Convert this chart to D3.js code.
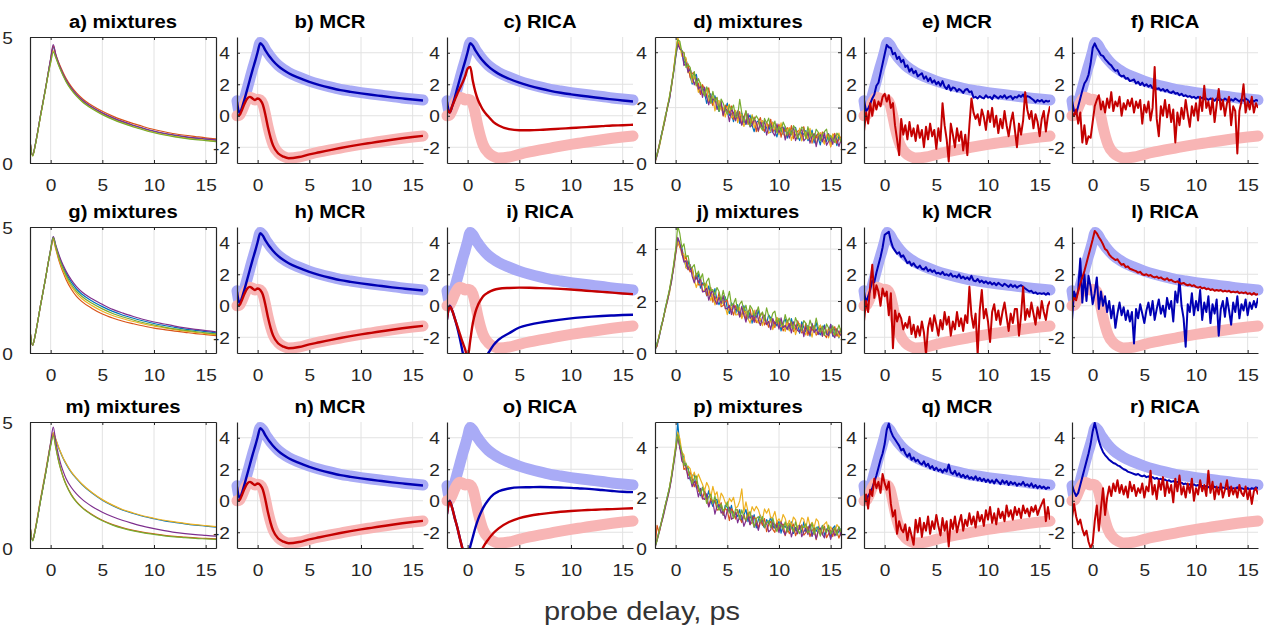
<!DOCTYPE html>
<html>
<head>
<meta charset="utf-8">
<script src="https://cdn.jsdelivr.net/npm/d3@7"></script>
<style>
  body { margin: 0; background: #fff; }
  svg { display: block; }
  text { font-family: "Liberation Sans", Arial, Helvetica, sans-serif; }
</style>
</head>
<body>
<svg id="chart" width="1270" height="632"></svg>
<script>
// ---------------- time axes ----------------
const timeSmooth = [-2,-1.75,-1.5,-1.25,-1,-0.75,-0.5,-0.25,0,0.25,0.5,0.75,1,1.25,1.5,2,2.5,3,4,5,6,7,8,9,10,11,12,13,14,15,16];
const timeFine = d3.range(91).map(i => Math.round((-2 + 0.2 * i) * 10) / 10);

const xTicks = [0, 5, 10, 15];
const yTicksMix = [0, 5];
const yTicksMixNoisy = [0, 2, 4];
const yTicksComp = [-2, 0, 2, 4];

// ---------------- reference (true) components ----------------
const refBlue = [0.95,0.2,0.6,1.15,1.75,2.35,2.95,3.5,4.1,4.65,4.5,4.22,3.97,3.74,3.54,3.2,2.95,2.75,2.45,2.2,2.0,1.83,1.68,1.57,1.47,1.38,1.3,1.22,1.13,1.06,1.0];
const refRed  = [0.0,0.05,0.35,0.75,1.05,1.18,1.12,1.0,1.05,1.0,0.75,0.1,-0.7,-1.35,-1.85,-2.35,-2.58,-2.68,-2.62,-2.45,-2.3,-2.17,-2.05,-1.93,-1.82,-1.72,-1.62,-1.52,-1.43,-1.35,-1.28];

// ---------------- smooth mixtures (a, g, m) ----------------
const mixA_blue   = [0.9,0.3,0.7,1.25,1.85,2.4,2.95,3.55,4.1,4.6,4.25,3.95,3.7,3.47,3.27,2.95,2.7,2.5,2.2,1.97,1.78,1.62,1.48,1.36,1.25,1.16,1.09,1.03,0.98,0.94,0.9];
const mixA_orange = [0.9,0.3,0.7,1.25,1.85,2.4,2.95,3.55,4.12,4.65,4.3,4.02,3.78,3.55,3.35,3.03,2.78,2.58,2.28,2.05,1.86,1.7,1.56,1.44,1.33,1.24,1.16,1.1,1.05,1.0,0.96];
const mixA_yellow = [0.88,0.28,0.68,1.22,1.82,2.37,2.92,3.5,4.0,4.45,4.2,3.92,3.67,3.44,3.24,2.92,2.67,2.47,2.17,1.94,1.75,1.59,1.45,1.33,1.22,1.13,1.06,1.0,0.95,0.91,0.87];
const mixA_purple = [0.9,0.3,0.7,1.25,1.85,2.4,2.95,3.55,4.15,4.7,4.3,3.98,3.72,3.49,3.29,2.97,2.72,2.52,2.22,1.99,1.8,1.64,1.5,1.38,1.27,1.18,1.11,1.05,1.0,0.96,0.92];
const mixA_green  = [0.88,0.28,0.68,1.22,1.82,2.37,2.92,3.5,3.98,4.4,4.18,3.9,3.65,3.42,3.22,2.9,2.65,2.45,2.15,1.92,1.73,1.57,1.43,1.31,1.2,1.11,1.04,0.98,0.93,0.89,0.85];

const mixG_blue   = [0.9,0.3,0.7,1.25,1.85,2.4,2.95,3.55,4.1,4.6,4.24,3.91,3.62,3.38,3.16,2.81,2.54,2.34,2.06,1.84,1.65,1.5,1.38,1.27,1.17,1.09,1.02,0.95,0.9,0.85,0.8];
const mixG_orange = [0.9,0.3,0.7,1.25,1.85,2.4,2.95,3.55,4.05,4.5,4.12,3.74,3.42,3.15,2.91,2.53,2.25,2.05,1.77,1.55,1.39,1.26,1.16,1.07,0.99,0.93,0.87,0.82,0.77,0.73,0.69];
const mixG_yellow = [0.9,0.3,0.7,1.25,1.85,2.4,2.95,3.55,4.08,4.55,4.16,3.8,3.49,3.23,3.0,2.64,2.37,2.16,1.88,1.66,1.49,1.36,1.25,1.15,1.07,1.0,0.93,0.87,0.82,0.77,0.73];
const mixG_purple = [0.9,0.3,0.7,1.25,1.85,2.4,2.95,3.55,4.12,4.62,4.28,3.96,3.68,3.45,3.24,2.9,2.63,2.43,2.15,1.93,1.73,1.58,1.45,1.33,1.23,1.15,1.07,1.0,0.94,0.89,0.84];
const mixG_green  = [0.9,0.3,0.7,1.25,1.85,2.4,2.95,3.55,4.1,4.58,4.2,3.85,3.55,3.3,3.08,2.72,2.45,2.25,1.97,1.75,1.57,1.43,1.31,1.2,1.11,1.03,0.96,0.9,0.85,0.8,0.76];

const mixM_blue   = [0.9,0.3,0.7,1.25,1.85,2.4,2.95,3.55,4.12,4.55,4.3,4.0,3.75,3.52,3.33,3.0,2.75,2.53,2.18,1.9,1.68,1.5,1.37,1.25,1.16,1.08,1.02,0.96,0.91,0.87,0.83];
const mixM_orange = [0.9,0.3,0.7,1.25,1.85,2.4,2.95,3.55,4.1,4.5,4.0,3.5,3.1,2.78,2.52,2.12,1.84,1.63,1.33,1.1,0.93,0.8,0.7,0.62,0.56,0.5,0.46,0.43,0.4,0.38,0.36];
const mixM_yellow = [0.92,0.32,0.75,1.32,1.92,2.48,3.02,3.62,4.15,4.58,4.32,4.02,3.77,3.54,3.35,3.02,2.77,2.55,2.2,1.92,1.7,1.52,1.39,1.27,1.18,1.1,1.04,0.98,0.93,0.89,0.85];
const mixM_purple = [0.9,0.3,0.7,1.25,1.85,2.4,2.95,3.55,4.2,4.8,4.2,3.7,3.3,3.0,2.75,2.4,2.15,1.95,1.65,1.42,1.24,1.09,0.97,0.86,0.77,0.69,0.62,0.57,0.53,0.5,0.47];
const mixM_green  = [0.88,0.28,0.68,1.22,1.82,2.37,2.92,3.5,4.05,4.45,3.97,3.48,3.08,2.76,2.5,2.1,1.82,1.61,1.31,1.08,0.91,0.78,0.68,0.6,0.54,0.48,0.44,0.41,0.38,0.36,0.34];

// ---------------- smooth MCR / RICA results (b, c, h, i, n, o) ----------------
const mcrBlue = [0.9,0.15,0.55,1.1,1.7,2.3,2.9,3.45,4.05,4.6,4.45,4.15,3.9,3.68,3.48,3.15,2.9,2.7,2.4,2.15,1.95,1.78,1.63,1.52,1.42,1.33,1.25,1.17,1.1,1.03,0.97];
const mcrRed  = [0.0,0.05,0.4,0.8,1.1,1.2,1.1,1.0,1.1,1.0,0.7,0.05,-0.75,-1.4,-1.9,-2.4,-2.6,-2.7,-2.62,-2.45,-2.32,-2.18,-2.05,-1.93,-1.82,-1.72,-1.62,-1.52,-1.43,-1.35,-1.28];

const ricaC_blue = [0.9,0.2,0.6,1.15,1.75,2.35,2.9,3.45,4.05,4.6,4.45,4.15,3.9,3.67,3.47,3.13,2.87,2.66,2.35,2.1,1.9,1.73,1.58,1.46,1.36,1.27,1.19,1.11,1.04,0.97,0.9];
const ricaC_red  = [0.45,0.2,0.6,1.0,1.4,1.75,2.1,2.5,3.0,3.1,2.2,1.5,1.0,0.65,0.35,-0.05,-0.4,-0.62,-0.85,-0.92,-0.92,-0.9,-0.86,-0.82,-0.78,-0.74,-0.7,-0.66,-0.62,-0.6,-0.57];

const ricaI_blue = [-0.9,0.0,-0.3,-0.8,-1.4,-2.1,-2.9,-3.6,-4.2,-4.8,-4.6,-4.3,-4.0,-3.75,-3.5,-3.0,-2.5,-2.15,-1.75,-1.38,-1.2,-1.07,-0.97,-0.88,-0.8,-0.74,-0.69,-0.65,-0.62,-0.59,-0.57];
const ricaI_red  = [-0.85,-0.05,-0.3,-0.8,-1.3,-1.8,-2.3,-2.75,-3.3,-2.2,-1.1,-0.4,0.05,0.35,0.6,0.85,1.0,1.08,1.13,1.15,1.14,1.12,1.1,1.07,1.03,0.98,0.93,0.88,0.83,0.78,0.74];

const ricaO_blue = [-0.85,0.0,-0.45,-1.1,-1.7,-2.4,-3.05,-3.7,-3.6,-2.9,-2.3,-1.7,-1.2,-0.8,-0.45,0.05,0.4,0.6,0.78,0.85,0.86,0.87,0.86,0.84,0.82,0.78,0.74,0.68,0.62,0.57,0.55];
const ricaO_red  = [-0.85,-0.05,-0.45,-1.1,-1.7,-2.4,-3.05,-3.7,-4.3,-4.8,-4.5,-4.1,-3.7,-3.3,-2.95,-2.45,-2.05,-1.75,-1.35,-1.1,-0.95,-0.85,-0.77,-0.7,-0.65,-0.61,-0.58,-0.55,-0.53,-0.5,-0.48];

// ---------------- noisy mixtures (d, j, p), 0.2 ps steps ----------------
const mixD_blue = [
  0.05,0.35,0.6,1.0,1.3,1.7,2.0,2.3,2.85,3.3,
  3.85,4.3,4.2,4.05,3.6,3.75,3.45,3.15,2.85,3.1,
  3.2,2.75,2.5,2.75,2.52,2.15,2.43,2.5,2.14,2.43,
  2.07,1.86,2.11,1.81,1.96,2.16,1.72,1.78,1.49,1.85,
  1.76,1.43,1.8,1.52,1.39,1.61,1.73,1.35,1.13,1.45,
  1.53,1.31,1.53,1.11,1.29,1.37,1.1,1.48,1.16,0.94,
  1.27,1.2,1.03,1.31,0.9,1.23,1.07,0.9,1.29,0.97,
  0.81,1.1,1.03,1.17,0.81,0.9,1.19,0.73,1.02,0.91,
  0.65,1.04,0.93,0.77,1.06,0.7,0.85,0.94,0.63,0.98,
  0.77];
const mixD_orange = [
  0.0,0.3,0.65,0.95,1.25,1.6,2.05,2.35,2.75,3.35,
  3.95,4.45,4.13,4.03,3.98,3.53,3.58,3.08,3.23,3.28,
  2.78,2.88,2.48,2.83,2.65,2.38,2.71,2.28,2.07,2.31,
  2.35,1.94,2.09,1.69,2.09,1.99,1.8,2.06,1.57,1.73,
  1.59,1.86,1.38,1.65,1.87,1.39,1.61,1.43,1.66,1.13,
  1.46,1.64,1.26,1.14,1.47,1.3,1.58,1.11,1.29,1.12,
  1.4,0.93,1.26,1.14,1.28,1.01,1.35,0.88,1.02,1.15,
  1.19,0.88,1.31,0.9,1.04,1.18,0.72,1.06,0.9,1.09,
  0.83,1.12,0.71,0.95,1.04,0.58,0.98,1.07,0.71,0.86,
  0.95];
const mixD_yellow = [
  0.1,0.3,0.55,0.9,1.35,1.7,1.95,2.4,2.85,3.35,
  4.0,4.55,4.25,3.85,3.85,3.8,3.25,3.3,2.9,3.15,
  2.95,2.55,2.9,2.5,2.47,2.7,2.18,2.4,2.39,1.88,
  2.22,2.26,1.91,2.01,1.66,2.01,2.12,1.63,1.69,1.9,
  1.46,1.73,1.75,1.32,1.54,1.71,1.38,1.75,1.28,1.45,
  1.13,1.46,1.53,1.26,1.44,1.07,1.15,1.48,1.21,1.34,
  1.02,1.45,1.08,0.91,1.2,1.28,0.82,1.1,1.19,0.92,
  1.26,0.8,0.98,1.12,0.86,1.25,0.79,0.98,0.67,1.01,
  1.1,0.84,0.68,1.02,0.96,0.6,1.05,0.74,0.88,1.08,
  0.72];
const mixD_purple = [
  0.05,0.25,0.6,0.95,1.3,1.6,2.0,2.3,2.8,3.25,
  3.8,4.3,4.12,4.07,3.52,3.62,3.27,3.42,3.12,2.82,
  3.07,2.67,2.77,2.37,2.74,2.37,2.1,2.42,2.26,2.35,
  1.94,1.98,2.23,1.73,1.98,1.88,1.49,1.95,1.81,1.52,
  1.88,1.55,1.37,1.69,1.41,1.78,1.3,1.37,1.6,1.47,
  1.15,1.48,1.25,1.53,1.01,1.29,1.42,1.1,0.98,1.41,
  1.09,1.27,1.3,0.83,1.12,0.9,1.14,1.27,0.81,0.99,
  1.08,1.22,0.8,0.89,1.13,0.72,0.96,1.05,0.59,0.93,
  1.02,0.76,1.1,0.64,0.78,0.92,0.67,1.01,0.85,0.6,
  0.84];
const mixD_green = [
  0.05,0.3,0.6,0.95,1.3,1.65,2.0,2.4,2.8,3.3,
  3.9,4.45,4.4,4.0,4.0,3.45,3.55,3.45,3.05,3.3,
  2.8,3.05,2.85,2.65,2.42,2.75,2.58,2.15,2.59,2.23,
  2.37,1.86,2.31,2.16,1.91,1.76,2.07,1.93,2.09,1.65,
  1.71,2.3,1.8,1.47,1.89,1.51,1.33,1.7,1.53,1.7,
  1.58,1.31,1.18,1.61,1.44,1.62,1.25,1.28,1.51,1.09,
  1.32,1.15,1.48,1.31,1.0,1.23,1.02,1.35,1.24,0.87,
  1.06,1.3,1.23,0.87,1.31,0.95,1.09,0.88,1.22,1.11,
  0.8,1.04,1.13,1.22,0.81,1.0,0.85,0.74,1.08,0.98,
  0.77];

const mixJ_blue = [
  0.1,0.4,0.6,1.05,1.3,1.75,2.05,2.35,2.8,3.3,
  3.9,4.4,4.15,4.05,3.65,3.3,3.55,3.2,3.3,2.85,
  2.85,3.05,2.5,2.7,2.57,2.2,2.58,2.2,2.09,2.48,
  2.02,1.86,2.11,1.91,2.16,1.71,1.52,1.93,1.79,1.5,
  1.86,1.53,1.45,1.82,1.54,1.31,1.58,1.15,1.58,1.35,
  1.63,1.26,1.13,1.36,1.14,1.47,1.35,0.98,1.21,1.04,
  1.32,0.85,1.18,1.31,1.0,0.88,1.32,1.0,0.89,1.12,
  0.76,1.2,0.98,0.82,1.06,0.65,1.09,0.88,1.17,0.81,
  0.7,0.94,1.08,0.72,0.76,1.1,0.65,0.94,0.78,0.58,
  0.92];
const mixJ_orange = [
  0.2,0.25,0.7,0.95,1.35,1.65,2.0,2.4,2.85,3.25,
  3.8,4.3,4.07,3.97,3.57,3.72,3.32,3.12,3.22,2.77,
  3.07,2.62,2.62,2.62,2.69,2.22,2.25,2.52,1.96,2.2,
  1.94,2.33,1.78,1.83,1.98,2.03,1.64,1.7,1.46,1.82,
  1.68,1.4,1.47,1.74,1.26,1.58,1.7,1.27,1.4,1.17,
  1.25,1.48,1.55,1.08,1.21,0.99,1.32,1.25,0.98,1.36,
  1.09,1.22,0.85,0.98,1.27,1.0,1.19,0.82,0.91,1.24,
  1.03,0.77,0.8,1.14,0.68,1.02,0.86,1.05,0.69,0.78,
  1.07,0.81,0.7,0.59,0.98,0.77,0.92,1.01,0.65,0.75,
  0.94];
const mixJ_yellow = [
  0.15,0.35,0.65,1.0,1.3,1.7,2.05,2.3,2.8,3.35,
  3.95,4.3,4.12,3.77,3.82,3.27,3.22,3.3,3.27,2.82,
  2.52,2.77,2.82,2.37,2.44,2.67,2.25,2.02,2.26,1.85,
  2.09,2.18,1.83,2.03,1.78,1.48,1.84,1.7,1.91,1.47,
  1.48,1.75,1.32,1.54,1.61,1.33,1.15,1.47,1.65,1.27,
  1.15,1.33,1.05,1.43,1.21,1.09,1.32,0.9,1.18,1.36,
  0.99,1.02,1.15,0.83,1.22,0.85,0.99,1.12,0.71,0.99,
  1.13,0.82,0.85,0.69,1.03,0.92,0.61,1.05,0.74,0.83,
  1.07,0.66,0.75,0.89,0.58,0.92,0.77,0.66,0.95,0.6,
  0.79];
const mixJ_purple = [
  0.1,0.3,0.6,1.0,1.3,1.7,2.0,2.4,2.75,3.3,
  3.85,4.45,4.25,3.85,3.5,3.55,3.2,3.4,2.95,2.7,
  3.0,2.7,2.9,2.35,2.37,2.5,2.03,2.3,2.39,2.03,
  1.87,2.16,1.91,2.21,1.71,1.71,1.82,1.48,1.89,1.65,
  1.71,1.38,1.8,1.47,1.19,1.61,1.33,1.45,1.18,1.65,
  1.28,1.06,1.38,1.46,1.09,1.22,0.9,1.33,1.11,1.24,
  0.92,1.35,0.98,1.06,0.9,1.13,0.77,1.2,1.04,0.87,
  0.81,1.1,0.63,1.02,0.86,0.7,1.14,0.78,0.92,0.71,
  0.95,0.64,1.03,0.77,0.66,1.1,0.7,0.59,0.93,0.78,
  0.67];
const mixJ_green = [
  0.1,0.35,0.65,1.0,1.35,1.7,2.1,2.45,2.9,3.4,
  4.0,4.9,4.6,4.05,4.2,3.7,3.75,3.3,3.3,3.4,
  2.95,3.15,2.85,3.05,2.52,2.75,2.88,2.4,2.44,2.23,
  2.52,2.36,2.01,2.41,2.06,2.06,2.37,1.83,1.89,2.1,
  1.61,1.88,2.0,1.62,1.84,1.41,1.83,1.7,1.43,1.5,
  1.78,1.41,1.58,1.26,1.74,1.42,1.25,1.53,1.61,1.14,
  1.34,1.12,1.05,1.48,1.17,1.35,1.09,0.92,1.36,1.14,
  1.03,0.87,1.25,1.14,0.88,1.27,1.01,0.9,1.34,0.98,
  0.8,1.04,0.68,1.12,0.96,0.8,1.05,0.69,0.83,1.08,
  0.82];

const mixP_blue = [
  0.05,0.35,0.7,1.0,1.35,1.7,2.05,2.4,2.85,3.4,
  4.0,5.0,4.0,3.75,3.6,3.1,3.2,2.7,2.88,2.91,
  2.39,2.48,2.07,2.42,2.23,1.95,2.28,1.86,1.65,1.89,
  1.93,1.53,1.68,1.29,1.7,1.61,1.42,1.69,1.21,1.38,
  1.25,1.52,1.04,1.31,1.53,1.05,1.27,1.09,1.32,0.8,
  1.12,1.3,0.93,0.8,1.13,0.96,1.24,0.77,0.95,0.78,
  1.06,0.59,0.93,0.82,0.96,0.7,1.04,0.58,0.72,0.86,
  0.9,0.6,1.04,0.64,0.78,0.93,0.47,0.82,0.66,0.86,
  0.6,0.9,0.5,0.74,0.84,0.39,0.78,0.88,0.53,0.67,
  0.77];
const mixP_orange = [
  0.0,0.9,0.6,1.0,1.3,1.7,2.0,2.35,2.8,3.35,
  3.9,4.5,3.97,3.77,3.12,3.17,2.87,3.02,2.75,2.43,
  2.66,2.25,2.34,1.94,2.3,1.92,1.65,1.98,1.82,1.91,
  1.5,1.55,1.8,1.31,1.57,1.48,1.09,1.56,1.43,1.15,
  1.52,1.19,1.01,1.33,1.05,1.42,0.94,1.01,1.24,1.12,
  0.79,1.12,0.9,1.17,0.65,0.93,1.06,0.74,0.62,1.05,
  0.73,0.91,0.95,0.49,0.78,0.57,0.81,0.95,0.49,0.68,
  0.77,0.92,0.51,0.61,0.85,0.45,0.69,0.79,0.33,0.68,
  0.77,0.52,0.87,0.41,0.56,0.71,0.45,0.8,0.65,0.39,
  0.64];
const mixP_yellow = [
  0.1,0.3,0.65,0.95,1.3,1.65,2.0,2.4,2.9,3.45,
  4.05,4.6,4.35,3.8,3.7,3.1,3.25,3.15,2.78,3.01,
  2.69,2.93,2.72,2.52,2.28,2.6,2.43,2.01,2.45,2.09,
  2.23,1.73,2.18,2.04,1.8,1.66,1.97,1.84,2.01,1.58,
  1.65,1.87,2.35,1.41,1.83,1.45,1.27,1.64,1.47,1.65,
  1.52,1.25,1.13,1.55,1.38,1.56,1.19,1.22,1.45,1.03,
  1.16,0.99,1.33,1.17,0.86,1.1,0.89,1.23,1.12,0.76,
  0.95,1.2,1.14,0.79,1.23,0.88,1.02,0.82,1.16,1.06,
  0.6,0.85,0.95,1.04,0.64,0.84,0.68,0.58,0.93,0.82,
  0.62];
const mixP_purple = [
  0.0,0.3,0.6,0.95,1.25,1.6,1.95,2.3,2.75,3.3,
  3.85,4.4,4.0,3.45,3.35,3.25,2.75,2.8,2.43,2.66,
  2.44,2.03,2.37,1.97,1.93,2.15,1.63,1.86,1.85,1.34,
  1.68,1.73,1.38,1.49,1.15,1.51,1.62,1.14,1.21,1.43,
  1.0,1.27,1.29,0.86,1.08,1.25,0.92,1.29,0.82,1.0,
  0.7,1.03,1.11,0.83,1.01,0.64,0.72,1.05,0.78,0.91,
  0.61,1.04,0.68,0.52,0.81,0.9,0.44,0.73,0.82,0.56,
  0.9,0.45,0.64,0.79,0.53,0.93,0.47,0.67,0.36,0.71,
  0.8,0.55,0.4,0.74,0.69,0.34,0.78,0.48,0.63,0.82,
  0.47];
const mixP_green = [
  0.05,0.3,0.65,1.0,1.35,1.7,2.05,2.4,2.85,3.4,
  3.95,4.5,4.12,3.82,3.27,3.37,3.12,2.82,2.55,2.78,
  2.86,2.4,2.14,2.39,2.15,1.77,2.05,2.13,1.77,2.06,
  1.7,1.5,1.75,1.46,1.62,1.83,1.39,1.46,1.18,1.55,
  1.47,1.14,1.51,1.23,1.1,1.32,1.44,1.06,0.84,1.17,
  1.24,1.02,1.25,0.82,1.0,1.08,0.81,1.19,0.87,0.65,
  0.98,0.91,0.75,1.04,0.63,0.97,0.81,0.65,1.04,0.73,
  0.57,0.87,0.81,0.96,0.6,0.7,0.99,0.54,0.83,0.73,
  0.47,0.87,0.77,0.61,0.91,0.56,0.7,0.8,0.5,0.84,
  0.64];

// ---------------- noisy MCR / RICA results (e, f, k, l, q, r) ----------------
const mcrE_blue = [
  1.0,0.3,0.45,0.75,1.1,1.35,1.9,2.1,2.7,3.3,
  3.9,4.5,4.35,4.3,3.9,4.0,3.6,3.75,3.4,3.55,
  3.1,3.2,2.8,3.0,2.7,2.85,2.5,2.6,2.7,2.35,
  2.5,2.2,2.4,2.1,2.25,2.0,2.15,1.9,2.2,1.85,
  1.7,1.95,1.6,1.8,1.75,1.55,1.7,1.6,1.45,1.65,
  1.7,1.5,1.55,1.15,1.2,1.1,1.25,1.15,1.1,1.3,
  1.15,1.2,1.05,1.3,1.2,1.1,1.25,1.15,1.3,1.1,
  1.2,1.25,1.05,1.2,1.15,1.3,1.2,1.35,1.1,1.25,
  1.2,1.1,1.0,0.85,1.0,0.9,1.0,0.85,0.95,0.9,
  0.95];
const mcrE_red = [
  -1.0,0.2,-0.5,0.8,0.0,1.0,0.4,0.9,0.6,1.2,
  1.4,0.9,1.3,0.5,0.8,-0.6,-1.5,-2.5,-0.2,-1.2,
  -0.6,-1.5,-0.4,-1.3,-0.8,-1.6,-0.6,-1.4,-0.9,-2.0,
  -0.7,-1.5,-0.5,-1.3,-0.9,-2.1,-0.8,-1.6,0.8,-0.6,
  -1.5,-2.9,-0.5,-1.2,-2.0,-0.8,-1.6,-1.0,-2.2,-1.2,
  -2.5,-0.6,1.1,0.2,-0.2,0.1,-0.6,0.4,-0.1,-0.9,
  0.3,-0.4,0.5,-0.7,0.0,-1.1,-0.2,-0.8,0.3,-0.6,
  -1.3,-0.4,0.2,-0.9,-2.0,-0.5,-1.2,-0.3,1.5,0.4,
  -0.2,0.3,-0.8,0.1,-0.4,-1.3,-0.2,0.3,-1.0,0.0,
  0.6];
const ricaF_blue = [
  0.95,0.3,0.1,0.6,1.1,1.6,2.05,2.25,2.6,3.3,
  4.3,4.6,4.3,4.1,3.85,3.8,3.6,3.45,3.3,3.2,
  3.0,2.85,2.9,2.6,2.5,2.55,2.35,2.4,2.2,2.25,
  2.3,2.05,2.15,1.95,2.1,1.9,2.0,1.85,1.95,1.75,
  1.8,1.7,1.75,1.6,1.7,1.55,1.65,1.5,1.45,1.55,
  1.4,1.45,1.3,1.4,1.25,1.3,1.2,1.25,1.15,1.2,
  1.1,1.2,1.1,1.15,1.05,1.1,1.0,1.1,1.05,0.95,
  1.1,1.0,1.05,0.95,1.1,1.0,0.9,1.05,0.95,1.1,
  1.0,0.9,1.05,0.95,1.1,1.0,0.85,1.0,0.9,1.0,
  0.95];
const ricaF_red = [
  0.2,0.0,0.4,-0.5,0.2,-1.7,-0.6,-1.8,-1.3,-1.4,
  -0.4,0.6,1.0,1.3,0.4,0.9,0.2,1.1,0.5,1.5,
  0.3,0.9,0.6,1.2,0.0,0.8,0.4,1.0,0.6,1.1,
  0.2,0.9,0.5,1.0,-0.5,0.7,0.2,0.9,-0.3,0.5,
  3.1,-0.2,-1.3,0.6,0.0,1.0,-0.1,0.7,-0.4,0.4,
  -1.7,0.2,-0.6,0.5,-0.2,1.0,0.1,-0.7,0.6,0.0,
  0.8,-0.3,1.2,0.3,1.9,0.5,0.9,0.1,1.1,-0.4,
  0.7,1.7,0.4,1.0,0.0,0.8,1.2,-0.6,0.6,0.3,
  -2.4,0.3,0.9,2.0,0.2,0.9,0.4,1.2,0.2,0.8,
  0.5];

const mcrK_blue = [
  0.9,0.2,0.6,1.0,1.6,1.5,2.1,2.6,3.1,3.7,
  4.5,4.6,4.7,4.1,3.7,3.5,3.3,3.4,3.1,3.2,
  2.95,2.7,2.8,2.55,2.7,2.5,2.4,2.55,2.35,2.3,
  2.45,2.2,2.3,2.15,2.25,2.05,2.1,2.0,2.15,1.95,
  2.0,1.9,2.05,1.85,1.9,1.8,2.0,1.75,1.85,1.7,
  1.8,1.65,1.9,1.6,1.55,1.7,1.5,1.6,1.45,1.55,
  1.4,1.5,1.35,1.45,1.3,1.45,1.35,1.25,1.4,1.3,
  1.2,1.35,1.2,1.3,1.15,1.25,1.3,1.2,1.1,1.0,
  0.9,0.95,0.8,0.85,0.75,0.8,0.75,0.8,0.7,0.8,
  0.7];
const mcrK_red = [
  -1.0,0.3,-0.4,1.3,2.6,0.5,1.3,0.9,0.0,1.1,
  0.6,0.9,-0.6,0.8,-2.7,-0.3,-1.0,-0.5,-0.8,-1.5,
  -1.1,-1.4,-0.7,-1.8,-1.2,-2.0,-1.3,-1.9,-1.0,-1.7,
  -3.1,-1.4,-0.8,-1.6,-0.6,-1.2,-1.9,-0.9,-1.5,-0.4,
  -1.2,-0.7,-1.9,-1.0,-1.5,-0.4,-1.3,-0.8,-1.6,-0.6,
  -1.1,1.2,-0.6,-1.4,-0.5,-3.1,-0.3,1.0,-0.8,-0.2,
  -1.0,-2.3,-0.4,0.1,-0.9,-0.3,-1.2,-0.4,0.2,-0.7,
  -1.6,-0.5,-1.1,-0.2,-0.2,-1.9,-0.6,1.2,-0.9,-0.2,
  -0.7,0.2,-0.5,-1.2,-0.1,-0.8,0.3,-0.4,-0.9,0.0,
  0.3];
const ricaL_blue = [
  -0.9,0.9,0.5,1.0,3.0,0.2,2.0,0.3,1.9,1.2,
  0.1,0.8,1.8,-0.2,0.9,0.0,0.6,-0.4,0.3,-0.8,
  0.0,-1.4,-0.5,0.2,-0.6,-0.1,-0.9,-0.3,-1.0,-0.4,
  -2.4,-0.2,-0.8,0.1,-0.5,-1.1,-0.3,0.2,-0.6,0.3,
  -0.9,-0.2,0.4,-0.5,0.0,-0.7,0.5,-0.2,0.3,-1.0,
  0.9,0.2,1.7,0.0,-0.8,-2.6,0.1,-0.4,0.8,-0.6,
  0.3,-0.3,1.0,-0.9,0.2,-0.4,0.6,-1.1,0.1,-0.5,
  0.4,-1.9,-0.2,0.3,-0.7,0.5,-0.3,-1.2,0.2,-0.4,
  0.6,-0.8,0.1,-0.3,0.4,-0.6,0.2,-0.2,0.3,-0.1,
  0.5];
const ricaL_red = [
  0.2,0.5,0.35,0.9,1.4,1.8,2.2,2.7,3.2,3.7,
  4.2,4.75,4.6,4.35,4.15,3.9,3.6,3.5,3.25,3.1,
  3.0,2.9,2.95,2.75,2.6,2.65,2.45,2.5,2.35,2.3,
  2.25,2.2,2.1,2.15,2.0,1.95,2.0,1.9,1.95,1.85,
  1.8,1.85,1.75,1.8,1.7,1.65,1.75,1.6,1.65,1.55,
  1.5,1.55,1.45,1.4,1.45,1.35,1.3,1.35,1.25,1.3,
  1.2,1.15,1.2,1.1,1.15,1.05,1.1,1.0,1.05,0.95,
  1.0,0.95,1.0,0.9,0.95,0.9,0.95,0.85,0.9,0.85,
  0.9,0.8,0.85,0.8,0.85,0.75,0.8,0.7,0.8,0.7,
  0.75];

const mcrQ_blue = [
  0.4,0.0,0.3,0.5,0.8,1.2,1.6,2.1,2.6,3.0,
  3.6,4.5,4.9,4.4,4.1,3.9,3.7,3.5,3.2,3.3,
  3.0,2.8,3.0,2.6,2.75,2.5,2.6,2.4,2.3,2.5,
  2.2,2.35,2.05,2.2,1.95,2.1,1.9,2.0,1.8,2.0,
  1.85,2.3,1.8,1.7,1.9,1.6,1.75,1.5,1.65,1.45,
  1.6,1.4,1.5,1.35,1.55,1.3,1.45,1.25,1.4,1.2,
  1.35,1.15,1.3,1.1,1.35,1.2,1.05,1.3,1.1,1.25,
  1.0,1.2,1.05,1.15,0.95,1.1,1.0,1.2,0.95,1.05,
  0.9,1.1,0.85,1.0,0.8,0.95,0.8,0.9,0.75,0.85,
  0.8];
const mcrQ_red = [
  -0.3,0.4,-0.5,0.7,0.3,1.4,0.8,1.2,0.5,1.7,
  1.1,0.7,1.2,-0.2,-1.0,-0.6,-2.1,-1.3,-1.8,-2.0,
  -1.5,-2.5,-1.7,-2.2,-2.8,-1.2,-2.0,-1.1,-2.3,-1.4,
  -1.9,-1.0,-2.1,-1.3,-1.8,-0.9,-1.6,-2.2,-1.1,-1.9,
  -1.3,-2.9,-1.2,-1.8,-1.0,-2.0,-1.4,-0.9,-1.9,-1.2,
  -1.6,-0.8,-1.5,-1.0,-1.7,-0.7,-1.3,-0.9,-1.6,-0.6,
  -1.2,-0.4,-1.4,-0.8,-1.5,-0.5,-1.1,-0.7,-1.3,-0.3,
  -1.0,-0.6,-1.2,-0.4,-0.9,-0.5,-1.1,-0.3,-0.8,-0.5,
  -1.0,-0.4,-0.7,-0.3,-0.9,-0.5,-0.2,0.1,-1.3,-0.4,
  -1.2];
const ricaR_blue = [
  1.0,0.6,0.3,0.5,1.0,1.5,2.0,2.5,3.0,3.6,
  4.4,4.95,4.4,3.8,3.4,3.1,2.9,2.75,2.6,2.5,
  2.4,2.35,2.25,2.2,2.1,2.0,1.95,1.85,1.8,1.75,
  1.7,1.65,1.7,1.6,1.55,1.6,1.5,1.55,1.45,1.5,
  1.4,1.45,1.35,1.4,1.3,1.35,1.25,1.3,1.2,1.25,
  1.15,1.2,1.1,1.15,1.05,1.1,1.0,1.05,0.95,1.05,
  0.95,1.0,0.9,0.95,0.85,0.95,0.85,0.9,0.8,0.9,
  0.8,0.85,0.75,0.85,0.8,0.75,0.85,0.7,0.8,0.75,
  0.85,0.7,0.8,0.75,0.7,0.8,0.7,0.8,0.75,0.85,
  0.8];
const ricaR_red = [
  -1.1,-0.2,-1.0,-1.5,-1.2,-1.8,-2.2,-1.9,-2.6,-3.0,
  -2.7,-1.3,-0.3,-1.9,-0.5,0.8,-0.9,0.2,0.9,0.3,
  1.1,0.6,1.3,0.5,1.0,0.4,0.9,0.2,1.2,0.6,
  1.0,0.3,0.8,0.5,1.1,0.2,0.9,0.6,1.9,0.4,
  1.0,0.1,1.3,0.7,1.5,0.3,1.2,0.5,1.0,-0.1,
  1.4,0.6,1.6,0.4,0.9,0.2,1.1,0.5,1.4,0.0,
  0.8,0.4,1.3,0.6,1.0,0.3,1.9,0.5,1.2,0.1,
  0.9,0.4,1.1,0.2,0.7,1.3,0.3,0.9,0.4,0.8,
  0.2,1.0,0.5,0.3,0.9,0.1,0.7,-0.2,0.6,0.8,
  0.4];

// ---------------- styling ----------------
const C = {
  mixBlue: "#0072BD", mixOrange: "#D95319", mixYellow: "#EDB120", mixPurple: "#7E2F8E", mixGreen: "#77AC30",
  refBlue: "#a9abf6", refRed: "#f8b5b5", blue: "#0000b4", red: "#c40000",
  axis: "#262626", grid: "#e2e2e2"
};
const COLS = [30, 237, 447, 655, 864, 1072];
const ROWS = [37, 227, 422];
const PW = 186, PH = 126;
const SX = 1.16; // horizontal glyph stretch

function mixLines(t, arrs) {
  const cols = [C.mixBlue, C.mixOrange, C.mixYellow, C.mixPurple, C.mixGreen];
  return arrs.map((v, i) => ({ t, v, color: cols[i], w: 1.2, curve: t === timeSmooth ? d3.curveMonotoneX : d3.curveLinear }));
}
function compLines(t, blue, red, w, curve) {
  return [
    { t: timeSmooth, v: refBlue, color: C.refBlue, w: 11, thick: true, curve: d3.curveMonotoneX },
    { t: timeSmooth, v: refRed, color: C.refRed, w: 11, thick: true, curve: d3.curveMonotoneX },
    { t, v: blue, color: C.blue, w, curve },
    { t, v: red, color: C.red, w, curve }
  ];
}

const panels = [
  { title: "a) mixtures", row: 0, col: 0, box: true, ylim: [0, 5], yt: yTicksMix, gap: 17,
    lines: mixLines(timeSmooth, [mixA_blue, mixA_orange, mixA_yellow, mixA_purple, mixA_green]) },
  { title: "b) MCR", row: 0, col: 1, ylim: [-3, 5], yt: yTicksComp, gap: 7,
    lines: compLines(timeSmooth, mcrBlue, mcrRed, 2.4, d3.curveMonotoneX) },
  { title: "c) RICA", row: 0, col: 2, ylim: [-3, 5], yt: yTicksComp, gap: 7,
    lines: compLines(timeSmooth, ricaC_blue, ricaC_red, 2.4, d3.curveMonotoneX) },
  { title: "d) mixtures", row: 0, col: 3, box: true, ylim: [0, 4.55], yt: yTicksMixNoisy, gap: 8,
    lines: mixLines(timeFine, [mixD_blue, mixD_orange, mixD_yellow, mixD_purple, mixD_green]) },
  { title: "e) MCR", row: 0, col: 4, ylim: [-3, 5], yt: yTicksComp, gap: 7,
    lines: compLines(timeFine, mcrE_blue, mcrE_red, 2, d3.curveLinear) },
  { title: "f) RICA", row: 0, col: 5, ylim: [-3, 5], yt: yTicksComp, gap: 7,
    lines: compLines(timeFine, ricaF_blue, ricaF_red, 2, d3.curveLinear) },

  { title: "g) mixtures", row: 1, col: 0, box: true, ylim: [0, 5], yt: yTicksMix, gap: 17,
    lines: mixLines(timeSmooth, [mixG_blue, mixG_orange, mixG_yellow, mixG_purple, mixG_green]) },
  { title: "h) MCR", row: 1, col: 1, ylim: [-3, 5], yt: yTicksComp, gap: 7,
    lines: compLines(timeSmooth, mcrBlue, mcrRed, 2.4, d3.curveMonotoneX) },
  { title: "i) RICA", row: 1, col: 2, ylim: [-3, 5], yt: yTicksComp, gap: 7,
    lines: compLines(timeSmooth, ricaI_blue, ricaI_red, 2.4, d3.curveMonotoneX) },
  { title: "j) mixtures", row: 1, col: 3, box: true, ylim: [0, 4.85], yt: yTicksMixNoisy, gap: 8,
    lines: mixLines(timeFine, [mixJ_blue, mixJ_orange, mixJ_yellow, mixJ_purple, mixJ_green]) },
  { title: "k) MCR", row: 1, col: 4, ylim: [-3, 5], yt: yTicksComp, gap: 7,
    lines: compLines(timeFine, mcrK_blue, mcrK_red, 2, d3.curveLinear) },
  { title: "l) RICA", row: 1, col: 5, ylim: [-3, 5], yt: yTicksComp, gap: 7,
    lines: compLines(timeFine, ricaL_blue, ricaL_red, 2, d3.curveLinear) },

  { title: "m) mixtures", row: 2, col: 0, box: true, ylim: [0, 5], yt: yTicksMix, gap: 17,
    lines: mixLines(timeSmooth, [mixM_blue, mixM_orange, mixM_yellow, mixM_purple, mixM_green]) },
  { title: "n) MCR", row: 2, col: 1, ylim: [-3, 5], yt: yTicksComp, gap: 7,
    lines: compLines(timeSmooth, mcrBlue, mcrRed, 2.4, d3.curveMonotoneX) },
  { title: "o) RICA", row: 2, col: 2, ylim: [-3, 5], yt: yTicksComp, gap: 7,
    lines: compLines(timeSmooth, ricaO_blue, ricaO_red, 2.4, d3.curveMonotoneX) },
  { title: "p) mixtures", row: 2, col: 3, box: true, ylim: [0, 5], yt: yTicksMixNoisy, gap: 8,
    lines: mixLines(timeFine, [mixP_blue, mixP_orange, mixP_yellow, mixP_purple, mixP_green]) },
  { title: "q) MCR", row: 2, col: 4, ylim: [-3, 5], yt: yTicksComp, gap: 7,
    lines: compLines(timeFine, mcrQ_blue, mcrQ_red, 2, d3.curveLinear) },
  { title: "r) RICA", row: 2, col: 5, ylim: [-3, 5], yt: yTicksComp, gap: 7,
    lines: compLines(timeFine, ricaR_blue, ricaR_red, 2, d3.curveLinear) }
];

// ---------------- drawing ----------------
const svg = d3.select("#chart");
const defs = svg.append("defs");
const x = d3.scaleLinear().domain([-2, 16]).range([0, PW]);
const fmt = d => String(d);

panels.forEach((p, k) => {
  const g = svg.append("g").attr("transform", `translate(${COLS[p.col]},${ROWS[p.row]})`);
  const y = d3.scaleLinear().domain(p.ylim).range([PH, 0]);

  // clip regions: exact plot box, and a slightly wider one for the broad reference bands
  const cid = "clip" + k;
  defs.append("clipPath").attr("id", cid).append("rect").attr("width", PW).attr("height", PH);
  defs.append("clipPath").attr("id", cid + "w").append("rect")
    .attr("x", -6).attr("y", -6).attr("width", PW + 12).attr("height", PH + 6);

  // grid
  const grid = g.append("g");
  grid.selectAll("line.gx").data(xTicks).join("line")
    .attr("x1", d => x(d)).attr("x2", d => x(d)).attr("y1", 0).attr("y2", PH)
    .attr("stroke", C.grid).attr("stroke-width", 1);
  grid.selectAll("line.gy").data(p.yt.filter(v => v > p.ylim[0] && v < p.ylim[1])).join("line")
    .attr("x1", 0).attr("x2", PW).attr("y1", d => y(d)).attr("y2", d => y(d))
    .attr("stroke", C.grid).attr("stroke-width", 1);

  // data lines
  p.lines.forEach(L => {
    const gen = d3.line()
      .x((d, i) => x(L.t[i]))
      .y(d => y(d))
      .curve(L.curve || d3.curveLinear);
    g.append("path").datum(L.v)
      .attr("d", gen)
      .attr("fill", "none")
      .attr("stroke", L.color)
      .attr("stroke-width", L.w)
      .attr("stroke-linejoin", "round")
      .attr("stroke-linecap", L.thick ? "round" : "butt")
      .attr("clip-path", `url(#${L.thick ? cid + "w" : cid})`);
  });

  // axes
  const ax = g.append("g").attr("transform", `translate(0,${PH})`)
    .call(d3.axisBottom(x).tickValues(xTicks).tickSizeInner(-3).tickSizeOuter(0).tickFormat(fmt));
  const ay = g.append("g")
    .call(d3.axisLeft(y).tickValues(p.yt).tickSizeInner(-3).tickSizeOuter(0).tickFormat(fmt));
  [ax, ay].forEach(a => {
    a.select(".domain").attr("stroke", C.axis).attr("stroke-width", 1.2);
    a.selectAll(".tick line").attr("stroke", C.axis).attr("stroke-width", 1);
    a.selectAll(".tick text").attr("fill", C.axis).style("font-size", "16.5px")
      .attr("x", null).attr("y", null).attr("dy", null);
  });
  ax.selectAll(".tick text").attr("text-anchor", "middle")
    .attr("transform", `translate(0,27.5) scale(${SX},1)`);
  ay.selectAll(".tick text").attr("text-anchor", "end")
    .attr("transform", `translate(${-p.gap},6) scale(${SX},1)`);

  if (p.box) {
    const top = g.append("g")
      .call(d3.axisTop(x).tickValues(xTicks).tickSizeInner(-3).tickSizeOuter(0).tickFormat(""));
    const right = g.append("g").attr("transform", `translate(${PW},0)`)
      .call(d3.axisRight(y).tickValues(p.yt).tickSizeInner(-3).tickSizeOuter(0).tickFormat(""));
    [top, right].forEach(a => {
      a.select(".domain").attr("stroke", C.axis).attr("stroke-width", 1.2);
      a.selectAll(".tick line").attr("stroke", C.axis);
    });
  }

  // title
  g.append("text")
    .attr("transform", `translate(${PW / 2},${-9.5}) scale(${SX},1)`)
    .attr("text-anchor", "middle")
    .style("font-size", "17.5px").style("font-weight", "bold")
    .attr("fill", "#000")
    .text(p.title);
});

// shared x-axis label
svg.append("text")
  .attr("transform", `translate(642,620) scale(${SX},1)`)
  .attr("text-anchor", "middle")
  .style("font-size", "25px")
  .attr("fill", "#333")
  .text("probe delay, ps");
</script>
</body>
</html>
